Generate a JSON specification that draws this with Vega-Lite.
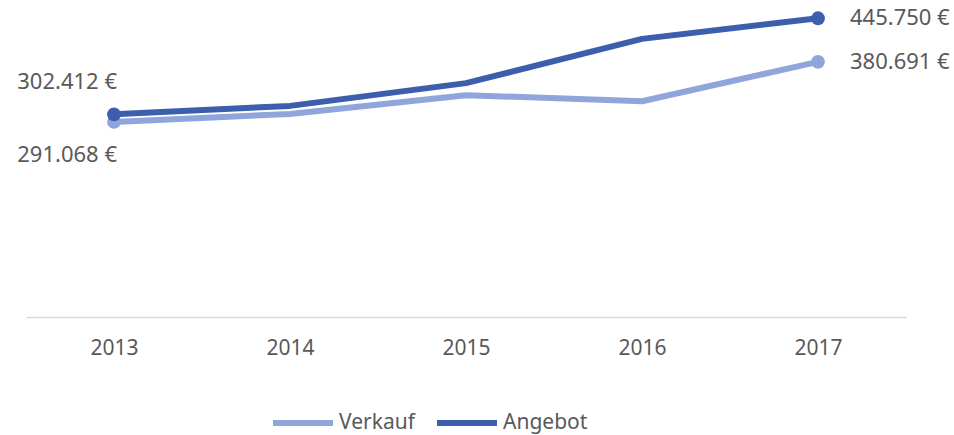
{
  "$schema": "https://vega.github.io/schema/vega-lite/v6.json",
  "width": 880,
  "height": 317,
  "autosize": {"type": "none"},
  "padding": {"left": 26, "top": 0, "right": 48, "bottom": 118},
  "background": "white",
  "config": {
    "view": {"stroke": null},
    "font": "Noto Sans",
    "text": {"font": "Noto Sans", "fontSize": 22, "color": "#595959"}
  },
  "data": {
    "values": [
      {"year": "2013", "series": "Verkauf", "value": 291068, "label": "291.068 €"},
      {"year": "2014", "series": "Verkauf", "value": 303000},
      {"year": "2015", "series": "Verkauf", "value": 331000},
      {"year": "2016", "series": "Verkauf", "value": 322000},
      {"year": "2017", "series": "Verkauf", "value": 380691, "label": "380.691 €"},
      {"year": "2013", "series": "Angebot", "value": 302412, "label": "302.412 €"},
      {"year": "2014", "series": "Angebot", "value": 315000},
      {"year": "2015", "series": "Angebot", "value": 349000},
      {"year": "2016", "series": "Angebot", "value": 415000},
      {"year": "2017", "series": "Angebot", "value": 445750, "label": "445.750 €"}
    ]
  },
  "encoding": {
    "x": {
      "field": "year", "type": "ordinal",
      "scale": {"type": "point", "padding": 0.5},
      "axis": {
        "title": null, "labelAngle": 0, "ticks": false,
        "domainColor": "#D9D9D9", "domainWidth": 1.3,
        "labelFont": "Noto Sans", "labelFontSize": 21, "labelColor": "#595959",
        "labelPadding": 20
      }
    },
    "y": {
      "field": "value", "type": "quantitative",
      "scale": {"domain": [0, 473000], "nice": false, "zero": true},
      "axis": null
    },
    "color": {
      "field": "series", "type": "nominal",
      "scale": {"domain": ["Verkauf", "Angebot"], "range": ["#8FA5DB", "#3D5EAD"]},
      "legend": {
        "title": null, "orient": "none", "direction": "horizontal",
        "legendX": 244, "legendY": 390,
        "symbolType": "stroke", "symbolSize": 3600, "symbolStrokeWidth": 6,
        "labelFont": "Noto Sans", "labelFontSize": 21, "labelColor": "#595959",
        "labelOffset": 3, "columnPadding": 10
      }
    }
  },
  "layer": [
    {
      "mark": {"type": "line", "strokeWidth": 6, "strokeJoin": "round", "strokeCap": "round"},
      "encoding": {}
    },
    {
      "transform": [{"filter": "isValid(datum.label)"}],
      "mark": {"type": "point", "filled": true, "size": 190, "opacity": 1},
      "encoding": {}
    },
    {
      "transform": [{"filter": "datum.year == '2017'"}],
      "mark": {"type": "text", "align": "left", "baseline": "middle", "dx": 32},
      "encoding": {"text": {"field": "label"}, "color": {"value": "#595959"}}
    },
    {
      "transform": [{"filter": "datum.year == '2013' && datum.series == 'Angebot'"}],
      "mark": {"type": "text", "align": "right", "baseline": "middle", "dx": 3, "dy": -32},
      "encoding": {"text": {"field": "label"}, "color": {"value": "#595959"}}
    },
    {
      "transform": [{"filter": "datum.year == '2013' && datum.series == 'Verkauf'"}],
      "mark": {"type": "text", "align": "right", "baseline": "middle", "dx": 3, "dy": 33},
      "encoding": {"text": {"field": "label"}, "color": {"value": "#595959"}}
    }
  ]
}
